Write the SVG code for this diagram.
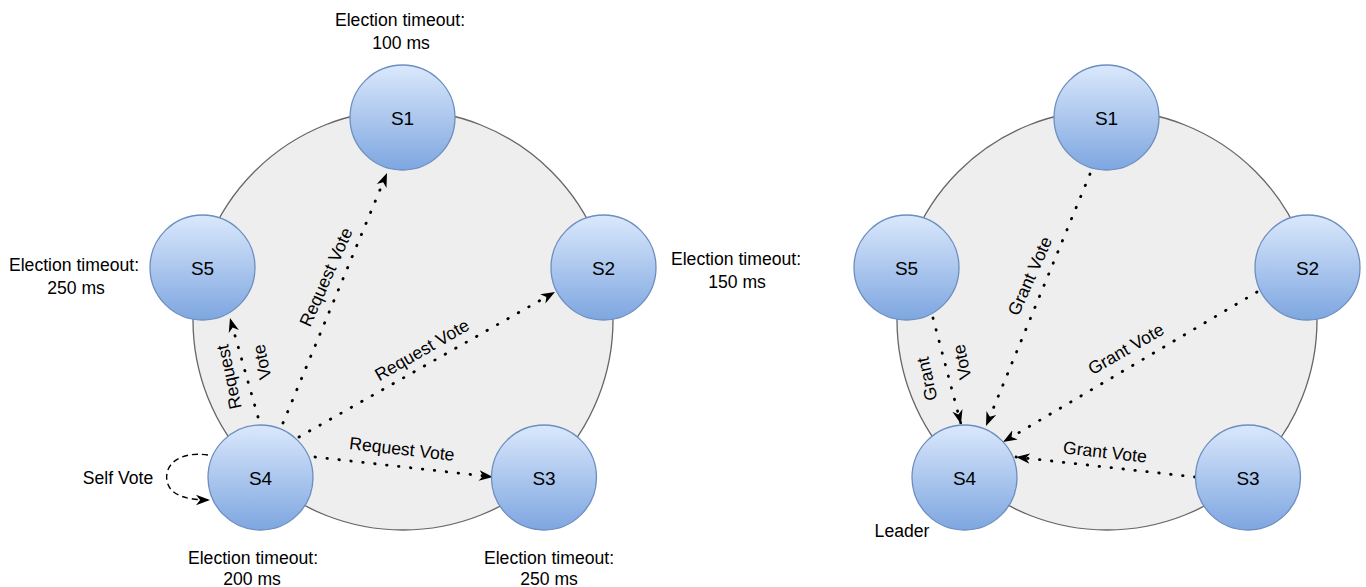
<svg xmlns="http://www.w3.org/2000/svg" width="1366" height="587" viewBox="0 0 1366 587">
<style>
text{font-family:"Liberation Sans",Arial,sans-serif;fill:#000}
.lbl{font-size:17.6px;text-anchor:middle}
.nt{font-size:19px;text-anchor:middle}
.big{fill:#eeeeee;stroke:#666666;stroke-width:1.3}
.node{fill:url(#g);stroke:#6c8ebf;stroke-width:1.3}
.dot{fill:none;stroke:#000;stroke-width:2.8;stroke-dasharray:0.5 11.5;stroke-linecap:round;marker-end:url(#ah)}
.dash{fill:none;stroke:#000;stroke-width:1.4;stroke-dasharray:6 4;marker-end:url(#ah)}
</style>
<defs>
<linearGradient id="g" x1="0" y1="0" x2="0" y2="1">
<stop offset="0" stop-color="#dae8fc"/>
<stop offset="1" stop-color="#7ea6e0"/>
</linearGradient>
<marker id="ah" viewBox="0 0 12 10" markerUnits="userSpaceOnUse" markerWidth="14" markerHeight="12" refX="12" refY="5" orient="auto">
<path d="M0,0.5 L12,5 L0,9.5 L3.5,5 Z" fill="#000"/>
</marker>
</defs>
<rect width="1366" height="587" fill="#ffffff"/>
<g id="ring-left"><circle class="big" cx="403" cy="320" r="210"/></g>
<g id="ring-right"><circle class="big" cx="1107" cy="320" r="210"/></g>
<g id="connectors">
<path class="dot" d="M283,423 L387,173"/>
<path class="dot" d="M299,437 L555,292"/>
<path class="dot" d="M315,457 L493,477"/>
<path class="dot" d="M258,417 L230,318"/>
<path class="dash" d="M208,455 C180,451 164,464 167,481 C170,497 190,500 210,500"/>
<path class="dot" d="M1090,174 L986,426"/>
<path class="dot" d="M1257,292 L1003,442"/>
<path class="dot" d="M1195,477 L1016,457"/>
<path class="dot" d="M933,318 L961,424"/>
<text class="lbl" transform="translate(326,277) rotate(-66)" dominant-baseline="central">Request Vote</text>
<text class="lbl" transform="translate(422,350) rotate(-30)" dominant-baseline="central">Request Vote</text>
<text class="lbl" transform="translate(402,449) rotate(6.5)" dominant-baseline="central">Request Vote</text>
<text class="lbl" transform="translate(229,377) rotate(-102)" dominant-baseline="central">Request</text>
<text class="lbl" transform="translate(262,362) rotate(-102)" dominant-baseline="central">Vote</text>
<text class="lbl" transform="translate(1030,276) rotate(-66)" dominant-baseline="central">Grant Vote</text>
<text class="lbl" transform="translate(1126,349) rotate(-30)" dominant-baseline="central">Grant Vote</text>
<text class="lbl" transform="translate(1105,452) rotate(6.5)" dominant-baseline="central">Grant Vote</text>
<text class="lbl" transform="translate(927,379) rotate(-102)" dominant-baseline="central">Grant</text>
<text class="lbl" transform="translate(962,362) rotate(-102)" dominant-baseline="central">Vote</text>
</g>
<g id="L-S1"><circle class="node" cx="402.5" cy="117.5" r="52.5"/><text class="nt" x="402.5" y="124.5">S1</text></g>
<g id="L-S2"><circle class="node" cx="603.5" cy="267.5" r="52.5"/><text class="nt" x="603.5" y="274.5">S2</text></g>
<g id="L-S3"><circle class="node" cx="544" cy="477.5" r="52.5"/><text class="nt" x="544" y="484.5">S3</text></g>
<g id="L-S4"><circle class="node" cx="260.5" cy="477.5" r="52.5"/><text class="nt" x="260.5" y="484.5">S4</text></g>
<g id="L-S5"><circle class="node" cx="202.5" cy="267.5" r="52.5"/><text class="nt" x="202.5" y="274.5">S5</text></g>
<g id="R-S1"><circle class="node" cx="1106.5" cy="117.5" r="52.5"/><text class="nt" x="1106.5" y="124.5">S1</text></g>
<g id="R-S2"><circle class="node" cx="1307.5" cy="267.5" r="52.5"/><text class="nt" x="1307.5" y="274.5">S2</text></g>
<g id="R-S3"><circle class="node" cx="1248" cy="477.5" r="52.5"/><text class="nt" x="1248" y="484.5">S3</text></g>
<g id="R-S4"><circle class="node" cx="964.5" cy="477.5" r="52.5"/><text class="nt" x="964.5" y="484.5">S4</text></g>
<g id="R-S5"><circle class="node" cx="906.5" cy="267.5" r="52.5"/><text class="nt" x="906.5" y="274.5">S5</text></g>
<g id="labels">
<text class="lbl" x="400" y="25.5">Election timeout:</text>
<text class="lbl" x="401" y="48.5">100 ms</text>
<text class="lbl" x="74" y="270.5">Election timeout:</text>
<text class="lbl" x="76" y="293.5">250 ms</text>
<text class="lbl" x="736" y="265">Election timeout:</text>
<text class="lbl" x="737" y="288">150 ms</text>
<text class="lbl" x="253" y="564">Election timeout:</text>
<text class="lbl" x="252" y="585">200 ms</text>
<text class="lbl" x="549" y="564">Election timeout:</text>
<text class="lbl" x="549" y="585">250 ms</text>
<text class="lbl" x="118" y="484">Self Vote</text>
<text class="lbl" x="902" y="537">Leader</text>
</g>
</svg>
